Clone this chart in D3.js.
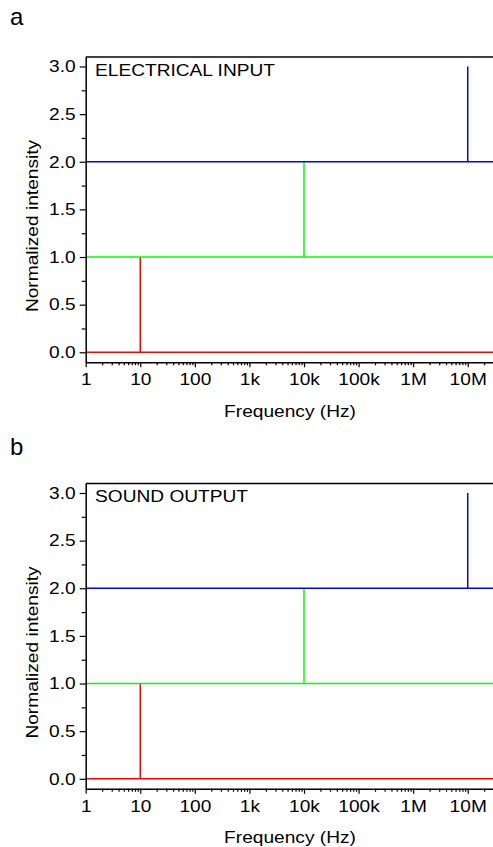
<!DOCTYPE html>
<html>
<head>
<meta charset="utf-8">
<script src="https://cdn.jsdelivr.net/npm/d3@7"></script>
<style>
  html, body { margin: 0; padding: 0; background: #fff; }
  svg { display: block; }
  text { font-family: "Liberation Sans", Arial, Helvetica, sans-serif; fill: #000; }
</style>
</head>
<body>
<svg id="chart" width="493" height="847"></svg>
<script>
// ---- data ----
const panelLetters = ["a", "b"];
const panelTitles = ["ELECTRICAL INPUT", "SOUND OUTPUT"];
const seriesNames = ["red", "green", "blue"];
const seriesColors = ["#ff0000", "#00ff00", "#0000ff"];
const seriesBaseline = [0, 1, 2];        // flat level of each trace
const seriesSpikeFreq = [10, 1e4, 1e7];  // Hz where each trace jumps
const seriesSpikeTop = [1, 2, 3];        // top of each spike
const freqStart = 1, freqEnd = 1e8;
const xTickValues = [1, 10, 100, 1e3, 1e4, 1e5, 1e6, 1e7];
const xTickLabels = ["1", "10", "100", "1k", "10k", "100k", "1M", "10M"];
const yTickValues = [0, 0.5, 1.0, 1.5, 2.0, 2.5, 3.0];
const yMinorValues = [0.25, 0.75, 1.25, 1.75, 2.25, 2.75];
const xLabel = "Frequency (Hz)";
const yLabel = "Normalized intensity";

// ---- layout ----
const SX = 1.16; // horizontal stretch of the lettering
const FS = 16.5;
const svg = d3.select("#chart");
const panelOffsets = [0, 426.5];

const x = d3.scaleLog().domain([freqStart, freqEnd]).range([85.7, 522.3]);
const y = d3.scaleLinear().domain([-0.105, 3.0997]).range([362.3, 57]);

const xMinor = [];
for (let d = 1; d < freqEnd; d *= 10) for (let k = 2; k <= 9; k++) xMinor.push(d * k);

function stretch(sel) {
  sel.each(function () {
    const t = d3.select(this);
    const xx = +(t.attr("x") || 0);
    t.attr("x", xx / SX).attr("transform", `scale(${SX},1)`);
  });
}

panelLetters.forEach((letter, i) => {
  const g = svg.append("g").attr("transform", `translate(0,${panelOffsets[i]})`);

  // data traces
  seriesNames.forEach((name, s) => {
    const pts = [
      [freqStart, seriesBaseline[s]],
      [seriesSpikeFreq[s], seriesBaseline[s]],
      [seriesSpikeFreq[s], seriesSpikeTop[s]],
      [seriesSpikeFreq[s], seriesBaseline[s]],
      [freqEnd, seriesBaseline[s]]
    ];
    g.append("path")
      .attr("d", d3.line().x(d => x(d[0])).y(d => y(d[1]))(pts))
      .attr("fill", "none")
      .attr("stroke", seriesColors[s])
      .attr("stroke-width", 1.5);
  });

  // top frame
  g.append("line")
    .attr("x1", x(freqStart)).attr("x2", x(freqEnd))
    .attr("y1", y.range()[1]).attr("y2", y.range()[1])
    .attr("stroke", "#000").attr("stroke-width", 1.5);

  // x axis
  g.append("g").attr("transform", `translate(0,${y.range()[0]})`)
    .call(d3.axisBottom(x).tickValues(xTickValues).tickSize(5).tickSizeOuter(0)
      .tickPadding(6).tickFormat((d, k) => xTickLabels[k]));
  g.append("g").attr("transform", `translate(0,${y.range()[0]})`)
    .call(d3.axisBottom(x).tickValues(xMinor).tickSize(3).tickSizeOuter(0).tickFormat(""))
    .select(".domain").remove();

  // y axis
  g.append("g").attr("transform", `translate(${x.range()[0]},0)`)
    .call(d3.axisLeft(y).tickValues(yTickValues).tickSize(6).tickSizeOuter(0)
      .tickPadding(4).tickFormat(d3.format(".1f")));
  g.append("g").attr("transform", `translate(${x.range()[0]},0)`)
    .call(d3.axisLeft(y).tickValues(yMinorValues).tickSize(4).tickSizeOuter(0).tickFormat(""))
    .select(".domain").remove();

  g.selectAll(".domain").attr("stroke", "#000").attr("stroke-width", 1.5);
  g.selectAll(".tick line").attr("stroke", "#000").attr("stroke-width", 1.2);
  g.selectAll(".tick text").attr("font-size", FS).attr("font-family", null).call(stretch);

  // axis titles
  g.append("text")
    .attr("transform", `translate(290,416.5) scale(${SX},1)`)
    .attr("text-anchor", "middle").attr("font-size", FS).text(xLabel);
  g.append("text")
    .attr("transform", `translate(38,226) rotate(-90) scale(${SX},1)`)
    .attr("text-anchor", "middle").attr("font-size", FS).text(yLabel);

  // panel title inside plot
  g.append("text")
    .attr("transform", `translate(95,75.5) scale(${SX},1)`)
    .attr("font-size", FS).text(panelTitles[i]);
});

// panel letters
svg.append("text").attr("x", 10).attr("y", 25).attr("font-size", 24).text(panelLetters[0]);
svg.append("text").attr("x", 10).attr("y", 455).attr("font-size", 24).text(panelLetters[1]);
</script>
</body>
</html>
